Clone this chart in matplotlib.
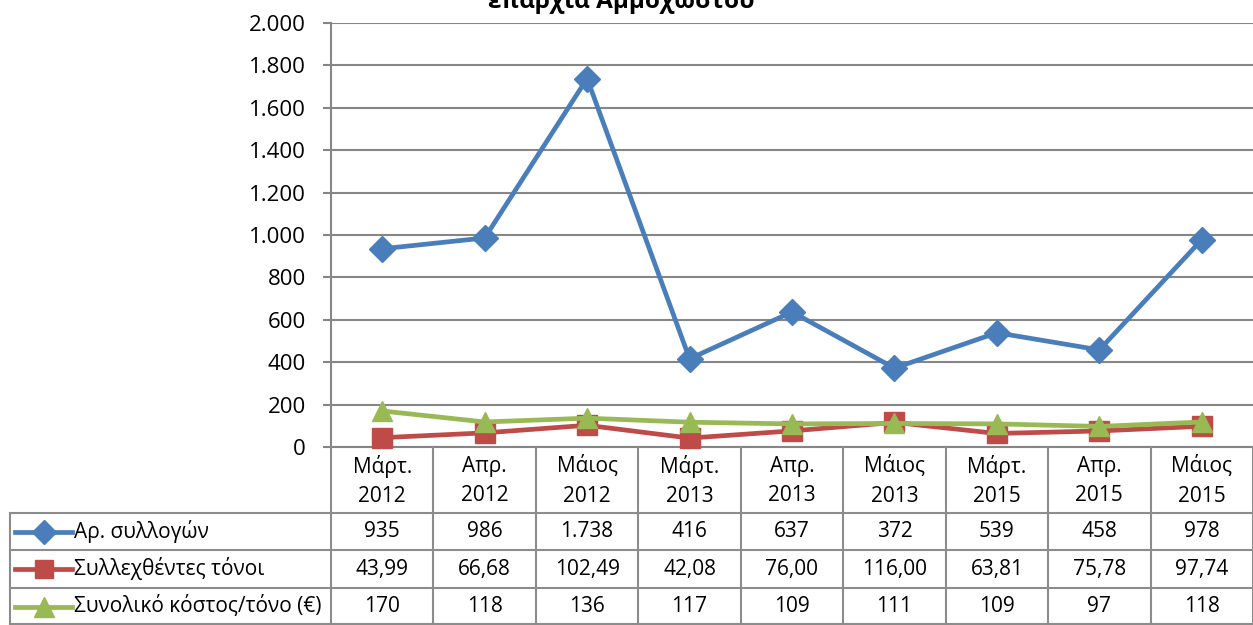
import matplotlib.pyplot as plt
from matplotlib.lines import Line2D

plt.rcParams['font.family'] = ['Open Sans', 'DejaVu Sans']

# Data
months = ['Μάρτ.\n2012', 'Απρ.\n2012', 'Μάιος\n2012', 'Μάρτ.\n2013', 'Απρ.\n2013',
          'Μάιος\n2013', 'Μάρτ.\n2015', 'Απρ.\n2015', 'Μάιος\n2015']
collections = [935, 986, 1738, 416, 637, 372, 539, 458, 978]
tonnes = [43.99, 66.68, 102.49, 42.08, 76.00, 116.00, 63.81, 75.78, 97.74]
cost_per_tonne = [170, 118, 136, 117, 109, 111, 109, 97, 118]
series_names = ['Αρ. συλλογών', 'Συλλεχθέντες τόνοι', 'Συνολικό κόστος/τόνο (€)']
yticks = [0, 200, 400, 600, 800, 1000, 1200, 1400, 1600, 1800, 2000]

W, H = 1253, 625
blue, red, green = '#4A7EBB', '#BE4B48', '#98B954'
grid_c = '#868686'

fig = plt.figure(figsize=(W / 100, H / 100), dpi=100)

def fx(px):
    return px / W

def fy(py):
    return 1 - py / H

x0, x1 = 331, 1253
ytop, ybot = 23, 447
ax = fig.add_axes([fx(x0), fy(ybot), fx(x1 - x0), (ybot - ytop) / H])
n = len(months)
xs = list(range(n))
ax.set_xlim(-0.5, n - 0.5)
ax.set_ylim(0, 2000)
ax.set_yticks(yticks)
ax.set_yticklabels([f'{v:,}'.replace(',', '.') for v in yticks], fontsize=16)
ax.set_xticks([])
for s in ['top', 'right']:
    ax.spines[s].set_visible(False)
for s in ['left', 'bottom']:
    ax.spines[s].set_color(grid_c)
    ax.spines[s].set_linewidth(1.5)
ax.tick_params(axis='y', length=6, width=1.5, color=grid_c, pad=12)
ax.yaxis.grid(True, color=grid_c, linewidth=1.5)
ax.set_axisbelow(True)

styles = [(collections, blue, 'D', 13), (tonnes, red, 's', 14), (cost_per_tonne, green, '^', 15)]
for vals, c, m, ms in styles:
    ax.plot(xs, vals, color=c, lw=3.4, marker=m, ms=ms, mec=c, mfc=c, clip_on=False, zorder=3)

# Title (partly cut off at top)
fig.text(0.496, fy(1), 'επαρχία Αμμοχώστου', ha='center', va='center',
         fontsize=17.5, fontweight='bold')

# Data table
colw = (x1 - x0) / n
rows_y = [447, 513, 550, 588, 625]
lc = '#8C8C8C'

def hline(y, xa, xb):
    fig.add_artist(Line2D([fx(xa), fx(xb)], [fy(y), fy(y)], color=lc, lw=1.5))

def vline(x, ya, yb):
    fig.add_artist(Line2D([fx(x), fx(x)], [fy(ya), fy(yb)], color=lc, lw=1.5))

for y in rows_y[1:4]:
    hline(y, 10, W)
hline(624, 10, W)
vline(10, 513, 625)
for k in range(n + 1):
    vline(x0 + k * colw, 447, 625)

for i, lab in enumerate(months):
    cx = fx(x0 + (i + 0.5) * colw)
    fig.text(cx, fy(481), lab, ha='center', va='center', fontsize=15, linespacing=1.55)

labels = [
    [f'{v:,}'.replace(',', '.') for v in collections],
    [f'{v:.2f}'.replace('.', ',') for v in tonnes],
    [f'{v}' for v in cost_per_tonne],
]
for r in range(3):
    cy = fy((rows_y[r + 1] + rows_y[r + 2]) / 2)
    vals, c, m, ms = styles[r]
    fig.add_artist(Line2D([fx(15), fx(72)], [cy, cy], color=c, lw=3.4))
    fig.add_artist(Line2D([fx(44)], [cy], color=c, marker=m, ms=ms - 1, mec=c, mfc=c, lw=0))
    fig.text(fx(74), cy, series_names[r], ha='left', va='center', fontsize=15)
    for i in range(n):
        fig.text(fx(x0 + (i + 0.5) * colw), cy, labels[r][i], ha='center', va='center', fontsize=15)

fig.savefig('out.png', dpi=100)
